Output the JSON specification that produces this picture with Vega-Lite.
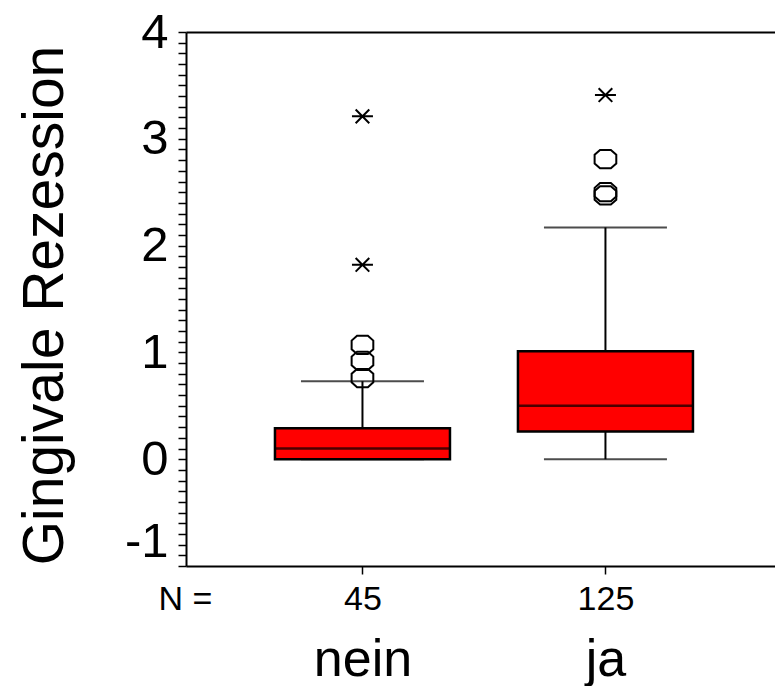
{
  "$schema": "https://vega.github.io/schema/vega-lite/v6.json",
  "width": 589,
  "height": 534,
  "autosize": {"type": "none"},
  "padding": {"left": 186, "top": 32, "right": 0, "bottom": 120},
  "background": "white",
  "config": {
    "view": {"stroke": null},
    "axis": {
      "grid": false,
      "domainColor": "black",
      "tickColor": "black",
      "labelColor": "black",
      "titleColor": "black",
      "labelFont": "Liberation Sans",
      "titleFont": "Liberation Sans",
      "titleFontWeight": "normal"
    }
  },
  "datasets": {
    "boxes": [
      {"g": "nein", "lower": 0.0, "q1": 0.0, "median": 0.1, "q3": 0.29, "upper": 0.73},
      {"g": "ja", "lower": 0.0, "q1": 0.26, "median": 0.5, "q3": 1.01, "upper": 2.17}
    ],
    "outliers": [
      {"g": "nein", "v": 0.76},
      {"g": "nein", "v": 0.92},
      {"g": "nein", "v": 1.07},
      {"g": "ja", "v": 2.47},
      {"g": "ja", "v": 2.5},
      {"g": "ja", "v": 2.81}
    ],
    "extremes": [
      {"g": "nein", "v": 1.82},
      {"g": "nein", "v": 3.21},
      {"g": "ja", "v": 3.41}
    ]
  },
  "resolve": {"axis": {"x": "independent", "y": "independent"}},
  "layer": [
    {
      "data": {"name": "boxes"},
      "mark": {"type": "rule", "color": "black", "strokeWidth": 2},
      "encoding": {
        "x": {"field": "g", "type": "nominal", "sort": ["nein", "ja"], "scale": {"type": "point", "domain": ["nein", "ja"], "padding": 0.712, "align": 0.51}, "axis": null},
        "y": {"field": "lower", "type": "quantitative", "scale": {"domain": [-1, 4], "nice": false, "zero": false}, "axis": null},
        "y2": {"field": "upper"}
      }
    },
    {
      "data": {"name": "boxes"},
      "mark": {"type": "tick", "color": "black", "size": 123, "thickness": 2},
      "encoding": {
        "x": {"field": "g", "type": "nominal", "sort": ["nein", "ja"], "scale": {"type": "point", "domain": ["nein", "ja"], "padding": 0.712, "align": 0.51}, "axis": null},
        "y": {"field": "lower", "type": "quantitative", "scale": {"domain": [-1, 4], "nice": false, "zero": false}, "axis": null}
      }
    },
    {
      "data": {"name": "boxes"},
      "mark": {"type": "tick", "color": "black", "size": 123, "thickness": 2},
      "encoding": {
        "x": {"field": "g", "type": "nominal", "sort": ["nein", "ja"], "scale": {"type": "point", "domain": ["nein", "ja"], "padding": 0.712, "align": 0.51}, "axis": null},
        "y": {"field": "upper", "type": "quantitative", "scale": {"domain": [-1, 4], "nice": false, "zero": false}, "axis": null}
      }
    },
    {
      "data": {"name": "boxes"},
      "mark": {"type": "bar", "size": 175, "fill": "#ff0000", "stroke": "black", "strokeWidth": 2.5},
      "encoding": {
        "x": {
          "field": "g", "type": "nominal", "sort": ["nein", "ja"],
          "scale": {"type": "point", "domain": ["nein", "ja"], "padding": 0.712, "align": 0.51},
          "axis": {
            "orient": "bottom",
            "labelExpr": "datum.value == 'nein' ? '45' : '125'",
            "labelFontSize": 34,
            "labelPadding": 8,
            "labelAngle": 0,
            "tickSize": 8,
            "tickWidth": 1.5,
            "domainWidth": 2,
            "title": "N =",
            "titleFontSize": 34,
            "titleX": -1,
            "titleY": 43,
            "titleAlign": "center",
            "titleBaseline": "alphabetic"
          }
        },
        "y": {
          "field": "q1", "type": "quantitative",
          "scale": {"domain": [-1, 4], "nice": false, "zero": false},
          "axis": {
            "orient": "left",
            "values": [-1, -0.9, -0.8, -0.7, -0.6, -0.5, -0.4, -0.3, -0.2, -0.1, 0, 0.1, 0.2, 0.3, 0.4, 0.5, 0.6, 0.7, 0.8, 0.9, 1, 1.1, 1.2, 1.3, 1.4, 1.5, 1.6, 1.7, 1.8, 1.9, 2, 2.1, 2.2, 2.3, 2.4, 2.5, 2.6, 2.7, 2.8, 2.9, 3, 3.1, 3.2, 3.3, 3.4, 3.5, 3.6, 3.7, 3.8, 3.9, 4],
            "labelExpr": "abs(datum.value - round(datum.value)) < 0.001 ? '' + round(datum.value) : ''",
            "labelFontSize": 49,
            "labelPadding": 10,
            "labelOverlap": false,
            "labelFlush": false,
            "labelBound": false,
            "labelOffset": {"condition": {"test": "datum.value < -0.99", "value": -25}, "value": 0},
            "tickSize": 8,
            "tickWidth": 1.5,
            "domainWidth": 2,
            "title": "Gingivale Rezession",
            "titleFontSize": 57,
            "titleX": -124,
            "titleY": 273,
            "titleAngle": -90,
            "titleAlign": "center",
            "titleBaseline": "alphabetic"
          }
        },
        "y2": {"field": "q3"}
      }
    },
    {
      "data": {"name": "boxes"},
      "mark": {"type": "tick", "color": "black", "size": 175, "thickness": 2.5},
      "encoding": {
        "x": {
          "field": "g", "type": "nominal", "sort": ["nein", "ja"],
          "scale": {"type": "point", "domain": ["nein", "ja"], "padding": 0.712, "align": 0.51},
          "axis": {
            "orient": "bottom",
            "domain": false,
            "ticks": false,
            "tickSize": 0,
            "labelFontSize": 52,
            "labelPadding": 109,
            "labelBaseline": "alphabetic",
            "labelAngle": 0,
            "title": null
          }
        },
        "y": {"field": "median", "type": "quantitative", "scale": {"domain": [-1, 4], "nice": false, "zero": false}, "axis": null}
      }
    },
    {
      "data": {"name": "outliers"},
      "mark": {"type": "point", "shape": "M-0.5,-0.84L0.5,-0.84L1,-0.4L1,0.4L0.5,0.84L-0.5,0.84L-1,0.4L-1,-0.4Z", "size": 470, "filled": false, "stroke": "black", "strokeWidth": 2, "opacity": 1},
      "encoding": {
        "x": {
          "field": "g", "type": "nominal", "sort": ["nein", "ja"],
          "scale": {"type": "point", "domain": ["nein", "ja"], "padding": 0.712, "align": 0.51},
          "axis": {"orient": "top", "domain": true, "domainWidth": 2, "ticks": false, "labels": false, "title": null}
        },
        "y": {"field": "v", "type": "quantitative", "scale": {"domain": [-1, 4], "nice": false, "zero": false}, "axis": null}
      }
    },
    {
      "data": {"name": "extremes"},
      "mark": {"type": "point", "shape": "M-1,0L1,0M-0.65,-0.65L0.65,0.65M-0.65,0.65L0.65,-0.65", "size": 441, "filled": false, "stroke": "black", "strokeWidth": 2, "opacity": 1},
      "encoding": {
        "x": {"field": "g", "type": "nominal", "sort": ["nein", "ja"], "scale": {"type": "point", "domain": ["nein", "ja"], "padding": 0.712, "align": 0.51}, "axis": null},
        "y": {"field": "v", "type": "quantitative", "scale": {"domain": [-1, 4], "nice": false, "zero": false}, "axis": null}
      }
    }
  ]
}
